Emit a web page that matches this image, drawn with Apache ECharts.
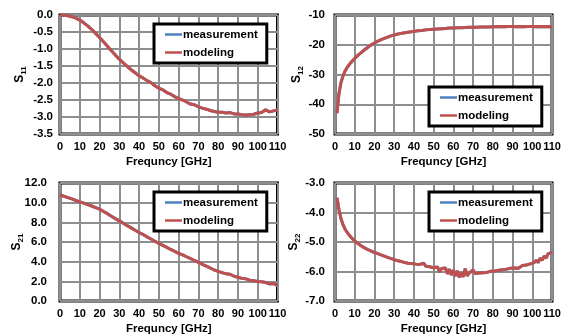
<!DOCTYPE html>
<html>
<head>
<meta charset="utf-8">
<script src="https://cdn.jsdelivr.net/npm/echarts@6/dist/echarts.min.js"></script>
<style>
  html, body { margin: 0; padding: 0; background: #fff; }
  #chart { width: 567px; height: 336px; }
</style>
</head>
<body>
<div id="chart"></div>
<script>
// frequency grids (GHz)
const freq2 = [0,2,4,6,8,10,12,14,16,18,20,22,24,26,28,30,32,34,36,38,40,42,44,46,48,50,52,54,56,58,60,62,64,66,68,70,72,74,76,78,80,82,84,86,88,90,92,94,96,98,100,102,104,106,108,110]
const freqS12 = [1,2,3,4,5,6,8,10,12,14,16,18,20,22,24,26,28,30,32,34,36,38,40,42,44,46,48,50,52,54,56,58,60,62,64,66,68,70,72,74,76,78,80,82,84,86,88,90,92,94,96,98,100,102,104,106,108,110]
const freqS22 = [1,2,3,4,5,6,7,8,9,10,11,12,13,14,15,16,17,18,19,20,21,22,23,24,25,26,27,28,29,30,31,32,33,34,35,36,37,38,39,40,41,42,43,44,45,46,47,48,49,50,51,52,53,54,55,56,57,58,59,60,61,62,63,64,65,66,67,68,69,70,71,72,73,74,75,76,77,78,79,80,81,82,83,84,85,86,87,88,89,90,91,92,93,94,95,96,97,98,99,100,101,102,103,104,105,106,107,108,109,110]

const s11 = [0.00,-0.01,-0.02,-0.05,-0.09,-0.15,-0.23,-0.32,-0.42,-0.54,-0.66,-0.79,-0.92,-1.05,-1.18,-1.30,-1.41,-1.51,-1.61,-1.70,-1.79,-1.85,-1.93,-1.99,-2.08,-2.15,-2.20,-2.28,-2.33,-2.40,-2.46,-2.50,-2.56,-2.62,-2.64,-2.70,-2.74,-2.77,-2.81,-2.84,-2.86,-2.86,-2.88,-2.87,-2.91,-2.91,-2.93,-2.94,-2.93,-2.92,-2.88,-2.87,-2.79,-2.85,-2.82,-2.79]
const s12 = [-43.0,-36.5,-32.8,-30.6,-29.0,-27.8,-26.0,-24.6,-23.3,-22.2,-21.2,-20.2,-19.4,-18.7,-18.1,-17.6,-17.1,-16.7,-16.4,-16.1,-15.9,-15.7,-15.5,-15.3,-15.2,-15.0,-14.9,-14.8,-14.7,-14.6,-14.5,-14.4,-14.35,-14.3,-14.25,-14.2,-14.15,-14.1,-14.1,-14.05,-14.0,-14.0,-13.95,-13.95,-13.9,-13.95,-13.9,-13.9,-13.95,-13.9,-13.95,-13.9,-13.9,-13.95,-13.9,-13.95,-13.9,-14.0]
const s21 = [10.80,10.65,10.52,10.38,10.22,10.08,9.95,9.80,9.66,9.50,9.34,9.10,8.88,8.62,8.38,8.15,7.90,7.66,7.44,7.20,6.97,6.76,6.52,6.30,6.08,5.86,5.66,5.46,5.24,5.05,4.85,4.70,4.50,4.32,4.12,3.94,3.72,3.55,3.36,3.15,3.02,2.88,2.76,2.72,2.52,2.42,2.30,2.25,2.12,2.06,1.98,1.95,1.88,1.74,1.78,1.55]
const s22 = [-3.50,-3.90,-4.20,-4.40,-4.55,-4.66,-4.75,-4.83,-4.90,-4.96,-5.02,-5.07,-5.12,-5.16,-5.20,-5.23,-5.27,-5.30,-5.33,-5.36,-5.38,-5.41,-5.43,-5.46,-5.48,-5.50,-5.53,-5.55,-5.57,-5.60,-5.62,-5.64,-5.65,-5.67,-5.69,-5.70,-5.72,-5.73,-5.73,-5.74,-5.75,-5.77,-5.76,-5.79,-5.72,-5.82,-5.80,-5.84,-5.81,-5.87,-5.93,-5.85,-6.02,-5.90,-5.96,-5.88,-6.08,-5.92,-6.12,-5.95,-6.15,-5.98,-6.20,-6.05,-6.18,-5.90,-6.15,-6.05,-6.10,-5.95,-6.07,-6.02,-6.05,-6.00,-6.04,-6.00,-6.03,-6.01,-5.99,-6.00,-5.98,-6.00,-5.96,-5.97,-5.94,-5.96,-5.92,-5.94,-5.89,-5.92,-5.88,-5.83,-5.89,-5.85,-5.80,-5.84,-5.78,-5.80,-5.74,-5.76,-5.70,-5.62,-5.70,-5.55,-5.62,-5.48,-5.55,-5.40,-5.45,-5.35]

const xTitle = 'Frequncy [GHz]'
const seriesNames = ['measurement', 'modeling']
const FONT = "'Liberation Sans', Arial, sans-serif"

const pair = (xs, ys) => xs.map((x, i) => [x, ys[i]])

// panel layout: grid box, y range, legend box, label tweaks
const panels = [
  { x: freq2, y: s11, name: '11', left: 60, top: 15, width: 217.5, min: -3.5, max: 0, interval: 0.5, dec: 1, ylm: 7, ngap: 32, lgLeft: 154, lgTop: 24 },
  { x: freqS12, y: s12, name: '12', left: 335, top: 15, width: 217, min: -50, max: -10, interval: 10, dec: 0, ylm: 10, ngap: 30, lgLeft: 429, lgTop: 87 },
  { x: freq2, y: s21, name: '21', left: 60, top: 183, width: 217.5, min: 0, max: 12, interval: 2, dec: 1, ylm: 13, ngap: 35, lgLeft: 154, lgTop: 192 },
  { x: freqS22, y: s22, name: '22', left: 335, top: 183, width: 217, min: -7, max: -3, interval: 1, dec: 1, ylm: 10, ngap: 33, lgLeft: 429, lgTop: 192 },
]

const grid = [], xAxis = [], yAxis = [], series = [], legend = []

panels.forEach((p, i) => {
  grid.push({ left: p.left, top: p.top, width: p.width, height: 119, show: true, borderColor: '#000', borderWidth: 3, backgroundColor: '#fff' })
  xAxis.push({
    type: 'value', gridIndex: i, min: 0, max: 110, interval: 10,
    name: xTitle, nameLocation: 'middle', nameGap: 22, nameMoveOverlap: false,
    nameTextStyle: { fontFamily: FONT, fontWeight: 'bold', fontSize: 11.5, color: '#000' },
    axisLine: { show: false }, axisTick: { show: false },
    axisLabel: { fontFamily: FONT, fontWeight: 'bold', fontSize: 11, color: '#000', margin: 7 },
    splitLine: { show: true, lineStyle: { color: '#8e8e8e', width: 2 } },
  })
  yAxis.push({
    type: 'value', gridIndex: i, min: p.min, max: p.max, interval: p.interval,
    name: '{s|S}{b|' + p.name + '}', nameLocation: 'middle', nameGap: p.ngap, nameRotate: 90, nameMoveOverlap: false,
    nameTextStyle: {
      rich: {
        s: { fontFamily: FONT, fontWeight: 'bold', fontSize: 12, color: '#000', lineHeight: 16 },
        b: { fontFamily: FONT, fontWeight: 'bold', fontSize: 8, color: '#000', verticalAlign: 'bottom', lineHeight: 16, padding: [4, 0, 0, 0] },
      },
    },
    axisLine: { show: false }, axisTick: { show: false },
    axisLabel: { fontFamily: FONT, fontWeight: 'bold', fontSize: 11.5, color: '#000', margin: p.ylm,
      formatter: v => v.toFixed(p.dec) },
    splitLine: { show: true, lineStyle: { color: '#8e8e8e', width: 2 } },
  })
  const data = pair(p.x, p.y)
  series.push({ name: seriesNames[0], type: 'line', xAxisIndex: i, yAxisIndex: i, data, symbol: 'none',
    lineStyle: { color: '#4F81BD', width: 3 }, itemStyle: { color: '#4F81BD' }, animation: false })
  series.push({ name: seriesNames[1], type: 'line', xAxisIndex: i, yAxisIndex: i, data, symbol: 'none',
    lineStyle: { color: '#C0504D', width: 3 }, itemStyle: { color: '#C0504D' }, animation: false })
  legend.push({
    data: seriesNames, orient: 'vertical', left: p.lgLeft, top: p.lgTop,
    backgroundColor: '#fff', borderColor: '#000', borderWidth: 3, borderRadius: 0,
    padding: [4, 9, 4, 11], itemGap: 5, itemWidth: 17, itemHeight: 2.5, icon: 'rect',
    selectedMode: false,
    textStyle: { fontFamily: FONT, fontWeight: 'bold', fontSize: 11.5, color: '#000', padding: [0, 0, 0, -4], lineHeight: 13 },
  })
})

const chart = echarts.init(document.getElementById('chart'))
chart.setOption({ backgroundColor: '#fff', animation: false, grid, xAxis, yAxis, series, legend })
</script>
</body>
</html>
